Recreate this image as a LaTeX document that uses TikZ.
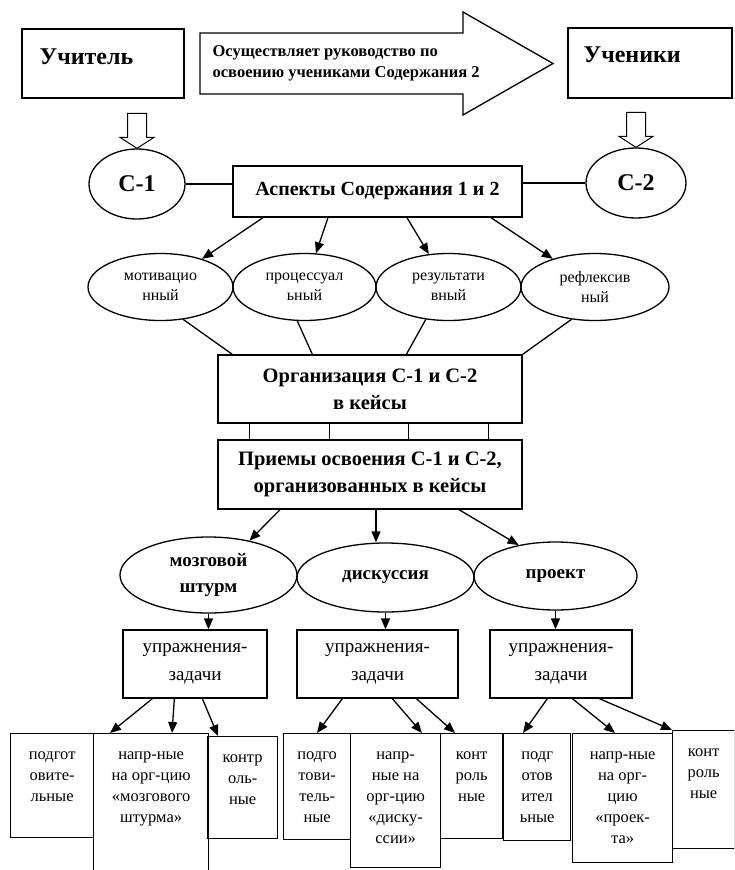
\documentclass[tikz,border=0pt]{standalone}
\usepackage{fontspec}
\setmainfont{Liberation Serif}
\usetikzlibrary{arrows.meta, shapes.geometric}

\newcommand{\cellbox}[3]{\parbox[c][#2][t]{#1}{\centering\vspace{11pt}\strut #3}}

\begin{document}
\begin{tikzpicture}[
        x=1pt, y=-1pt,
        >={Triangle[length=11pt, width=9pt]},
        line width=1.3pt,
        box/.style={draw, rectangle, inner sep=2pt, align=center},
        oval/.style={draw, ellipse, inner sep=0pt, align=center},
        cell/.style={draw, inner sep=0pt, anchor=north west, font={\fontsize{16.5}{21}\selectfont}},
        hollow/.style={draw, line width=1pt},
        bigtext/.style={font={\fontsize{24}{28}\selectfont\bfseries}},
        leadtext/.style={font={\fontsize{16.5}{21}\selectfont\bfseries}},
        aspecttext/.style={font={\fontsize{16}{20}\selectfont}},
        orgtext/.style={font={\fontsize{20.5}{27}\selectfont\bfseries}},
        casetext/.style={font={\fontsize{19}{26}\selectfont\bfseries}},
        tasktext/.style={font={\fontsize{19}{28}\selectfont}}
    ]
    \path[use as bounding box] (0,0) rectangle (734,870);
    \clip (0,0) rectangle (734,870);

    % Учитель и ученики
    \node[box, minimum width=162pt, minimum height=69pt] (teacher) at (103,63.5) {};
    \node[bigtext, inner sep=0pt, anchor=west] (teachername) at (39,57) {Учитель};
    \node[box, minimum width=164pt, minimum height=70pt] (pupils) at (650,63) {};
    \node[bigtext, inner sep=0pt, anchor=west] (pupilsname) at (583,55) {Ученики};

    % Большая стрелка
    \draw (200,33) -- (463,33) -- (463,12) -- (553,63.5) -- (463,115) -- (463,94) -- (200,94) -- cycle;
    \node[leadtext, inner sep=0pt, anchor=west, align=left] (lead) at (212,63) {Осуществляет руководство по\\освоению учениками Содержания 2};

    % Содержание 1 и 2
    \node[oval, bigtext, minimum width=96pt, minimum height=70pt] (c1) at (137,184) {С-1};
    \node[oval, bigtext, minimum width=100pt, minimum height=70pt] (c2) at (636,183) {С-2};
    \node[box, font={\fontsize{20}{24}\selectfont\bfseries}, minimum width=289pt, minimum height=51pt] (aspects) at (377.5,191.5) {Аспекты Содержания 1 и 2};

    \draw (c1.east) -- (c1.east -| aspects.west);
    \draw (aspects.east |- c2.west) -- (c2.west);

    \foreach \n in {c1, c2}
        \draw[hollow] ([shift={(-9.5pt,35pt)}]\n.north) -- ++(19,0) -- ++(0,24) -- ++(7.5,0) -- ++(-17,11) -- ++(-17,-11) -- ++(7.5,0) -- cycle;

    % Аспекты
    \node[oval, aspecttext, minimum width=145pt, minimum height=67pt] (motiv) at (160.5,287) {мотивацио\\нный};
    \node[oval, aspecttext, minimum width=143pt, minimum height=67pt] (proc) at (304.5,287) {процессуал\\ьный};
    \node[oval, aspecttext, minimum width=145pt, minimum height=67pt] (result) at (448.5,287) {результати\\вный};
    \node[oval, aspecttext, minimum width=148pt, minimum height=67pt] (reflex) at (595,287) {рефлексив\\ный};

    \foreach \dx/\e in {-114.5/motiv, -49.5/proc, 29.5/result, 113.5/reflex}
        \draw[->] ([xshift=\dx pt]aspects.south) -- (\e);

    % Организация в кейсы
    \node[box, orgtext, minimum width=304pt, minimum height=68pt] (org) at (370,389) {Организация С-1 и С-2\\в кейсы};
    \node[box, orgtext, minimum width=304pt, minimum height=69pt] (priem) at (370,474.5) {Приемы освоения С-1 и С-2,\\организованных в кейсы};

    \draw (motiv.-55) -- ([xshift=15pt]org.north west);
    \draw (proc.-102) -- ([xshift=95pt]org.north west);
    \draw (result.-125) -- ([xshift=189pt]org.north west);
    \draw (reflex.-126) -- (org.north east);

    \foreach \dx in {32, 112, 191, 271}
        \draw ([xshift=\dx pt]org.south west) -- ([xshift=\dx pt]priem.north west);

    % Приемы
    \node[oval, casetext, minimum width=177pt, minimum height=76pt] (brain) at (208.5,575) {мозговой\\штурм};
    \node[oval, casetext, minimum width=177pt, minimum height=69pt] (disc) at (385.5,577.5) {дискуссия};
    \node[oval, casetext, minimum width=163pt, minimum height=68pt] (proj) at (555.5,576) {проект};

    \draw[->] ([xshift=-90pt]priem.south) -- (brain.40);
    \draw[->] ([xshift=6pt]priem.south) -- ([xshift=6pt]priem.south |- disc.north);
    \draw[->] ([xshift=89pt]priem.south) -- (proj.140);

    % Упражнения-задачи
    \node[box, tasktext, minimum width=144pt, minimum height=68pt] (task1) at (195,664) {упражнения-\\задачи};
    \node[box, tasktext, minimum width=161pt, minimum height=68pt] (task2) at (377.5,664) {упражнения-\\задачи};
    \node[box, tasktext, minimum width=142pt, minimum height=68pt] (task3) at (561,664) {упражнения-\\задачи};

    \foreach \e/\t in {brain/task1, disc/task2, proj/task3}
        \draw[->] (\e.south) -- (\e.south |- \t.north);

    % Виды упражнений
    \node[cell] (prep1) at (10,733) {\cellbox{83pt}{104pt}{подгот\\овите-\\льные}};
    \node[cell] (dir1) at (93,733) {\cellbox{115pt}{150pt}{напр-ные\\на орг-цию\\«мозгового\\штурма»}};
    \node[cell] (ctrl1) at (207,736) {\cellbox{70pt}{102pt}{контр\\оль-\\ные}};
    \node[cell] (prep2) at (283,733) {\cellbox{67pt}{106pt}{подго\\тови-\\тель-\\ные}};
    \node[cell] (dir2) at (350,733) {\cellbox{90pt}{134pt}{напр-\\ные на\\орг-цию\\«диску-\\ссии»}};
    \node[cell] (ctrl2) at (440,733) {\cellbox{62pt}{105pt}{конт\\роль\\ные}};
    \node[cell] (prep3) at (503,733) {\cellbox{67pt}{107pt}{подг\\отов\\ител\\ьные}};
    \node[cell] (dir3) at (572,733) {\cellbox{100pt}{129pt}{напр-ные\\на орг-\\цию\\«проек-\\та»}};
    \node[cell] (ctrl3) at (672,730) {\cellbox{62pt}{118pt}{конт\\роль\\ные}};

    \foreach \t/\a/\c/\b in {task1/30/dir1/17, task1/52/dir1/79, task1/80/ctrl1/11,
                             task2/46/prep2/34, task2/96/dir2/72, task2/120/ctrl2/15,
                             task3/58/prep3/20, task3/83/dir3/43, task3/110/ctrl3/0}
        \draw[->] ([xshift=\a pt]\t.south west) -- ([xshift=\b pt]\c.north west);

\end{tikzpicture}
\end{document}
